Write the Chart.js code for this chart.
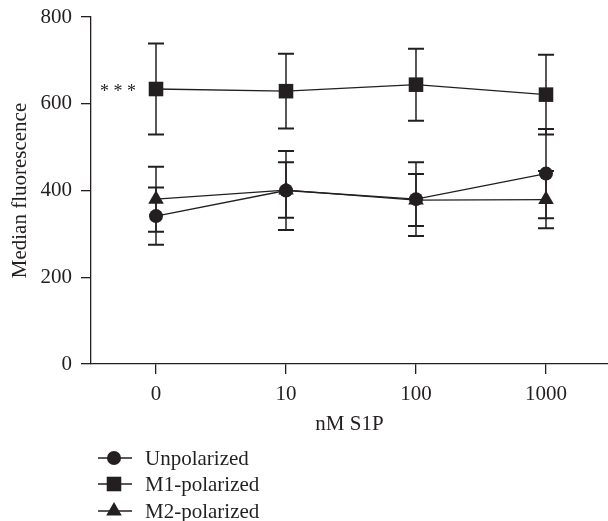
<!DOCTYPE html>
<html>
<head>
<meta charset="utf-8">
<script src="https://cdn.jsdelivr.net/npm/chart.js"></script>
<style>
  body { margin: 0; background: #fff; }
  #wrap { width: 608px; height: 521px; }
</style>
</head>
<body>
<div id="wrap"><canvas id="canvas" width="608" height="521"></canvas></div>
<script>
// values
const doses = ['0', '10', '100', '1000'];
const unpolarized = [341, 400, 380, 439];
const unpolarizedErr = [66, 91, 85, 103];
const m1Polarized = [634, 629, 644, 621];
const m1Err = [105, 86, 83, 92];
const m2Polarized = [380, 401, 378, 379];
const m2Err = [75, 64, 60, 66];
const yTicks = [0, 200, 400, 600, 800];

const ink = '#231f20';
const serif = '"Liberation Serif", "DejaVu Serif", serif';

function toPoints(values) {
  return values.map((v, i) => ({ x: i, y: v }));
}

function marker(ctx, style, x, y, r) {
  ctx.beginPath();
  if (style === 'circle') {
    ctx.arc(x, y, r, 0, Math.PI * 2);
  } else if (style === 'rect') {
    const s = r * Math.SQRT1_2;
    ctx.rect(x - s, y - s, 2 * s, 2 * s);
  } else {
    const w = r * Math.sqrt(3) / 2;
    ctx.moveTo(x, y - r);
    ctx.lineTo(x + w, y + r / 2);
    ctx.lineTo(x - w, y + r / 2);
    ctx.closePath();
  }
  ctx.fill();
}

// error bars, drawn through the library's scales
const errorBars = {
  id: 'errorBars',
  beforeDatasetsDraw(chart) {
    const ctx = chart.ctx;
    const xs = chart.scales.x, ys = chart.scales.y;
    ctx.save();
    ctx.strokeStyle = ink;
    chart.data.datasets.forEach(ds => {
      ds.data.forEach((p, i) => {
        const e = ds.errors[i];
        const px = xs.getPixelForValue(p.x);
        const top = ys.getPixelForValue(p.y + e);
        const bot = ys.getPixelForValue(p.y - e);
        ctx.lineWidth = 1.5;
        ctx.beginPath();
        ctx.moveTo(px, top);
        ctx.lineTo(px, bot);
        ctx.stroke();
        ctx.lineWidth = 2;
        ctx.beginPath();
        ctx.moveTo(px - 8, top); ctx.lineTo(px + 8, top);
        ctx.moveTo(px - 8, bot); ctx.lineTo(px + 8, bot);
        ctx.stroke();
      });
    });
    ctx.restore();
  },
  afterDraw(chart) {
    const ctx = chart.ctx;
    const xs = chart.scales.x, ys = chart.scales.y;
    ctx.save();
    ctx.fillStyle = ink;
    // significance mark next to the first M1 point
    const first = chart.data.datasets[1].data[0];
    ctx.font = '18px ' + serif;
    ctx.textAlign = 'right';
    ctx.textBaseline = 'alphabetic';
    ctx.fillText('* * *', xs.getPixelForValue(first.x) - 20, ys.getPixelForValue(first.y) + 8);

    // legend under the axis title
    const rows = [458, 484, 511];
    ctx.font = '21px ' + serif;
    ctx.textAlign = 'left';
    ctx.textBaseline = 'middle';
    chart.data.datasets.forEach((ds, k) => {
      const y = rows[k];
      ctx.strokeStyle = ink;
      ctx.lineWidth = 1.3;
      ctx.beginPath();
      ctx.moveTo(98, y);
      ctx.lineTo(132, y);
      ctx.stroke();
      marker(ctx, ds.pointStyle, 114, y, ds.pointRadius);
      ctx.fillText(ds.label, 145, y + 1);
    });
    ctx.restore();
  }
};

const common = {
  borderColor: ink,
  backgroundColor: ink,
  pointBackgroundColor: ink,
  pointBorderColor: ink,
  pointBorderWidth: 0,
  borderWidth: 1.3,
  tension: 0
};

new Chart(document.getElementById('canvas'), {
  type: 'line',
  data: {
    datasets: [
      { ...common, label: 'Unpolarized', data: toPoints(unpolarized), errors: unpolarizedErr, pointStyle: 'circle', pointRadius: 7 },
      { ...common, label: 'M1-polarized', data: toPoints(m1Polarized), errors: m1Err, pointStyle: 'rect', pointRadius: 10.3 },
      { ...common, label: 'M2-polarized', data: toPoints(m2Polarized), errors: m2Err, pointStyle: 'triangle', pointRadius: 9 }
    ]
  },
  options: {
    responsive: false,
    animation: false,
    events: [],
    layout: { autoPadding: false, padding: { top: 17, left: 0, right: 0, bottom: 84 } },
    plugins: { legend: { display: false }, tooltip: { enabled: false } },
    scales: {
      x: {
        type: 'linear',
        min: -0.5,
        max: 3.477,
        afterBuildTicks: s => { s.ticks = doses.map((d, i) => ({ value: i })); },
        afterFit: s => { s.height = 73; s.paddingLeft = 0; s.paddingRight = 0; },
        ticks: {
          color: ink,
          padding: 8,
          maxRotation: 0,
          font: { family: serif, size: 21 },
          callback: v => doses[v]
        },
        grid: { display: true, drawOnChartArea: false, drawTicks: true, tickLength: 10, color: ink, lineWidth: 1.3 },
        border: { display: true, color: ink, width: 1.3 },
        title: { display: true, text: 'nM S1P', color: ink, font: { family: serif, size: 21 }, padding: { top: 4, bottom: 0 } }
      },
      y: {
        min: 0,
        max: 800,
        afterBuildTicks: s => { s.ticks = yTicks.map(v => ({ value: v })); },
        afterFit: s => { s.width = 91; s.paddingTop = 0; s.paddingBottom = 0; s.paddingLeft = 0; s.paddingRight = 0; },
        ticks: { color: ink, padding: 9, font: { family: serif, size: 21 } },
        grid: { display: true, drawOnChartArea: false, drawTicks: true, tickLength: 10, color: ink, lineWidth: 1.3 },
        border: { display: true, color: ink, width: 1.3 },
        title: { display: true, text: 'Median fluorescence', color: ink, font: { family: serif, size: 21 }, padding: { top: 8, bottom: 0 } }
      }
    }
  },
  plugins: [errorBars]
});
</script>
</body>
</html>
